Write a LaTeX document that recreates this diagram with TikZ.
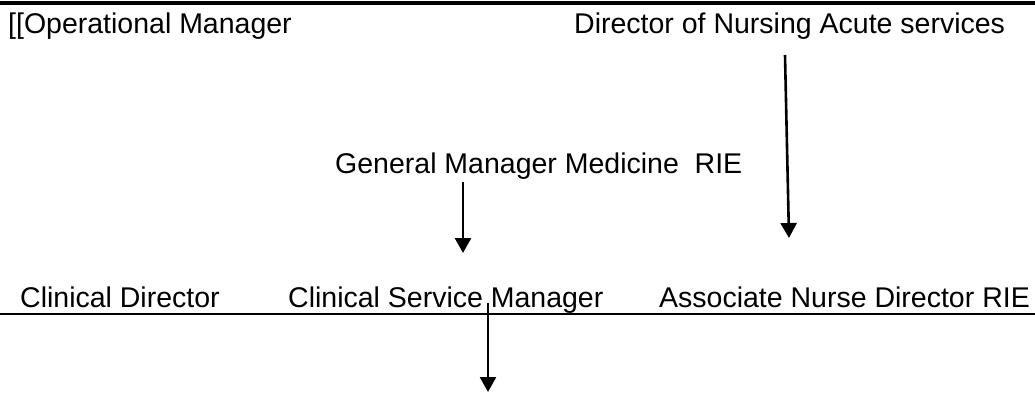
\documentclass[tikz,border=0pt]{standalone}
\usepackage{fontspec}
\setmainfont{Liberation Sans}
\usetikzlibrary{arrows.meta}
\begin{document}
\begin{tikzpicture}[x=1pt,y=-1pt,
  lbl/.style={inner sep=0pt,anchor=base west,font=\fontsize{28.5}{34}\selectfont},
  arr/.style={line width=2.6pt,-{Triangle[width=16pt,length=15pt]}},
  rule/.style={line width=2.2pt}]
\useasboundingbox (0,0) rectangle (1035,392);
\draw[line width=4pt] (0,3) -- (1035,3);
\node[lbl] (om) at (8,33) {[[Operational Manager};
\node[lbl] (dn) at (574,33) {Director of Nursing Acute services};
\node[lbl] (gm) at (335,173) {General Manager Medicine\ \ RIE};
\node[lbl] (cd) at (20,307) {Clinical Director};
\node[lbl] (csm) at (288,307) {Clinical Service Manager};
\node[lbl] (and) at (659,307) {Associate Nurse Director RIE};
\coordinate (dnA) at (785,55);
\coordinate (dnB) at (789,238);
\coordinate (gmA) at (463,182);
\coordinate (gmB) at (463,253);
\coordinate (csA) at (488,303);
\coordinate (csB) at (488,392);
\coordinate (l1) at (0,314);
\coordinate (l2) at (1035,314);
\draw[rule] (l1) -- (l2);
\draw[arr] (dnA) -- (dnB);
\draw[arr] (gmA) -- (gmB);
\draw[arr] (csA) -- (csB);
\end{tikzpicture}
\end{document}
